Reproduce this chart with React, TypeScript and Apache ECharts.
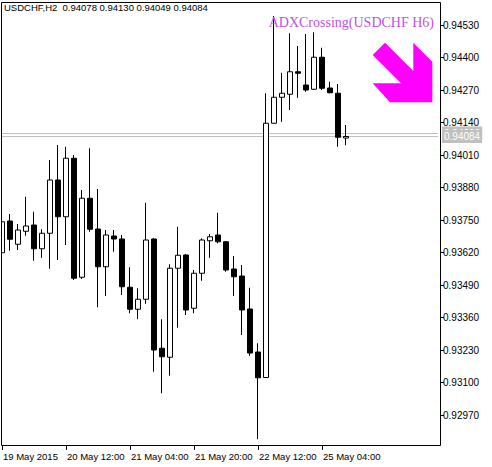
import React, { useEffect, useRef } from "react";
import * as echarts from "echarts";

const symbolTitle = "USDCHF,H2  0.94078 0.94130 0.94049 0.94084";
const indicatorTitle = "ADXCrossing(USDCHF H6)";

// OHLC of the 44 visible H2 bars
const opens = [
  0.93619, 0.93746, 0.93653, 0.93705, 0.9373, 0.93635, 0.93697, 0.9391, 0.93763, 0.93997,
  0.93521, 0.93837, 0.93714, 0.93563, 0.93686, 0.93674, 0.93481, 0.93393, 0.93433, 0.93674,
  0.93237, 0.93201, 0.93557, 0.9361, 0.93397, 0.93537, 0.93667, 0.9369, 0.93663, 0.93554,
  0.93526, 0.93394, 0.93222, 0.9312, 0.94137, 0.94241, 0.94253, 0.94343, 0.9429, 0.94273,
  0.94401, 0.94278, 0.94257, 0.94078,
];
const closes = [
  0.93743, 0.93673, 0.9371, 0.93726, 0.93635, 0.93697, 0.9391, 0.93763, 0.93997, 0.93517,
  0.93837, 0.93713, 0.93563, 0.9369, 0.93674, 0.93483, 0.93393, 0.93433, 0.9367, 0.9323,
  0.93203, 0.93557, 0.93609, 0.9339, 0.93537, 0.9367, 0.93683, 0.93663, 0.9355, 0.93523,
  0.9339, 0.93218, 0.93119, 0.94137, 0.94241, 0.94257, 0.94343, 0.94337, 0.9427, 0.94401,
  0.94277, 0.94259, 0.94081, 0.94084,
];
const lows = [
  0.9361, 0.93627, 0.9363, 0.93687, 0.93587, 0.93599, 0.93555, 0.9359, 0.9365, 0.9351,
  0.93514, 0.93703, 0.93401, 0.93446, 0.93623, 0.9345, 0.93377, 0.93353, 0.93415, 0.93143,
  0.93057, 0.93127, 0.93319, 0.9337, 0.93377, 0.93507, 0.93599, 0.93657, 0.93543, 0.93446,
  0.9329, 0.93207, 0.92873, 0.93119, 0.94137, 0.94143, 0.9419, 0.94239, 0.94263, 0.9427,
  0.9427, 0.94257, 0.94043, 0.94049,
];
const highs = [
  0.93754, 0.93774, 0.93734, 0.93843, 0.93783, 0.93713, 0.9399, 0.9405, 0.94043, 0.9401,
  0.9387, 0.94037, 0.93874, 0.9371, 0.9371, 0.9369, 0.93561, 0.93477, 0.93819, 0.93677,
  0.93353, 0.93573, 0.93723, 0.93614, 0.9355, 0.93677, 0.93694, 0.93779, 0.93666, 0.93606,
  0.9357, 0.93479, 0.93257, 0.94257, 0.94566, 0.94339, 0.94497, 0.94446, 0.94494, 0.94501,
  0.94439, 0.94303, 0.94294, 0.9413,
];

const yTicks = [
  0.9297, 0.931, 0.9323, 0.9336, 0.9349, 0.9362, 0.9375, 0.9388, 0.9401, 0.9414, 0.9427,
  0.944, 0.9453,
];
const yMin = 0.9285;
const yMax = 0.94618;
const xTickIndices = [0, 8, 16, 24, 32, 40];
const xTickLabels = [
  "19 May 2015",
  "20 May 12:00",
  "21 May 04:00",
  "21 May 20:00",
  "22 May 12:00",
  "25 May 04:00",
];
const askPrice = 0.94098;
const bidPrice = 0.94084;
const emptySlots = 11;

// bar times (H2, weekends skipped), starting 19 May 2015 20:00
function buildCategories(): string[] {
  const out: string[] = [];
  let t = Date.UTC(2015, 4, 19, 20);
  while (out.length < opens.length) {
    const d = new Date(t);
    const wd = d.getUTCDay();
    if (wd !== 0 && wd !== 6) {
      out.push(d.toISOString().slice(0, 16).replace("T", " "));
    }
    t += 2 * 3600 * 1000;
  }
  for (let i = 0; i < emptySlots; i++) out.push("");
  return out;
}

const FONT = "'Liberation Sans', Arial, sans-serif";

export default function App() {
  const ref = useRef<HTMLDivElement>(null);
  useEffect(() => {
    if (!ref.current) return;
    const chart = echarts.init(ref.current, undefined, { renderer: "svg" });
    const categories = buildCategories();
    const candles = opens.map((o, i) => [o, closes[i], lows[i], highs[i]]);
    const isTick = (i: number) => xTickIndices.indexOf(i) >= 0;

    chart.setOption({
      animation: false,
      backgroundColor: "#ffffff",
      grid: {
        left: -2,
        top: 3,
        width: 440,
        height: 442,
        containLabel: false,
        outerBoundsMode: "none",
      },
      xAxis: {
        type: "category",
        data: categories,
        boundaryGap: true,
        axisLine: { show: false },
        axisTick: {
          show: true,
          alignWithLabel: true,
          interval: (i: number) => isTick(i),
          length: 5,
          lineStyle: { color: "#000000", width: 1 },
        },
        axisLabel: {
          interval: (i: number) => isTick(i),
          formatter: (_v: string, i: number) => {
            const k = xTickIndices.indexOf(i);
            return k >= 0 ? xTickLabels[k] : "";
          },
          align: "left",
          margin: 6,
          color: "#000000",
          fontFamily: FONT,
          fontSize: 9.5,
          padding: [0, 0, 0, 1],
        },
        splitLine: { show: false },
      },
      yAxis: {
        type: "value",
        position: "right",
        offset: 2,
        min: yMin,
        max: yMax,
        scale: true,
        axisLine: { show: false },
        axisTick: {
          show: true,
          customValues: yTicks,
          length: 4,
          lineStyle: { color: "#000000", width: 1 },
        },
        axisLabel: {
          customValues: yTicks,
          formatter: (v: number) => v.toFixed(5),
          margin: 3,
          color: "#000000",
          fontFamily: FONT,
          fontSize: 10,
        },
        splitLine: { show: false },
      },
      series: [
        {
          type: "candlestick",
          z: 3,
          data: candles,
          barWidth: 5,
          itemStyle: {
            color: "#ffffff",
            color0: "#000000",
            borderColor: "#000000",
            borderColor0: "#000000",
            borderColorDoji: "#000000",
            borderWidth: 1,
          },
        },
        {
          type: "line",
          z: 1,
          data: [],
          markLine: {
            silent: true,
            symbol: "none",
            precision: 5,
            animation: false,
            z: 1,
            lineStyle: { color: "#c0c0c0", type: "solid", width: 1 },
            label: {
              show: true,
              position: "end",
              distance: 4,
              formatter: (p: any) => Number(p.value).toFixed(5),
              backgroundColor: "#c0c0c0",
              color: "#ffffff",
              fontFamily: FONT,
              fontSize: 10,
              padding: [2, 2, 1, 2],
            },
            data: [{ yAxis: askPrice }, { yAxis: bidPrice }],
          },
        },
      ],
      graphic: [
        {
          type: "rect",
          z: 90,
          silent: true,
          shape: { x: -6, y: 0, width: 7.5, height: 467 },
          style: { fill: "#ffffff" },
        },
        {
          type: "rect",
          z: 100,
          silent: true,
          shape: { x: 1.5, y: 2.5, width: 439, height: 443 },
          style: { fill: "none", stroke: "#000000", lineWidth: 1 },
        },
        {
          type: "text",
          z: 100,
          silent: true,
          x: 4,
          y: 7.5,
          style: {
            text: symbolTitle,
            fill: "#000000",
            font: `9.5px ${FONT}`,
            verticalAlign: "middle",
            align: "left",
          },
        },
        {
          type: "text",
          z: 100,
          silent: true,
          x: 434,
          y: 22,
          style: {
            text: indicatorTitle,
            fill: "#bf4ff0",
            font: "14px 'Liberation Serif', 'Times New Roman', serif",
            verticalAlign: "middle",
            align: "right",
          },
        },
        {
          type: "polygon",
          z: 100,
          silent: true,
          shape: {
            points: [
              [385, 42.7],
              [413.3, 71],
              [413.3, 42.7],
              [432.3, 61.7],
              [432.3, 102.3],
              [390, 102.3],
              [372.7, 83.3],
              [401, 83.3],
              [372.7, 55],
            ],
          },
          style: { fill: "#ff00ff" },
        },
      ],
    });
    return () => chart.dispose();
  }, []);
  return (
    <div
      ref={ref}
      style={{ position: "absolute", left: 0, top: 0, width: 492, height: 467 }}
    />
  );
}
